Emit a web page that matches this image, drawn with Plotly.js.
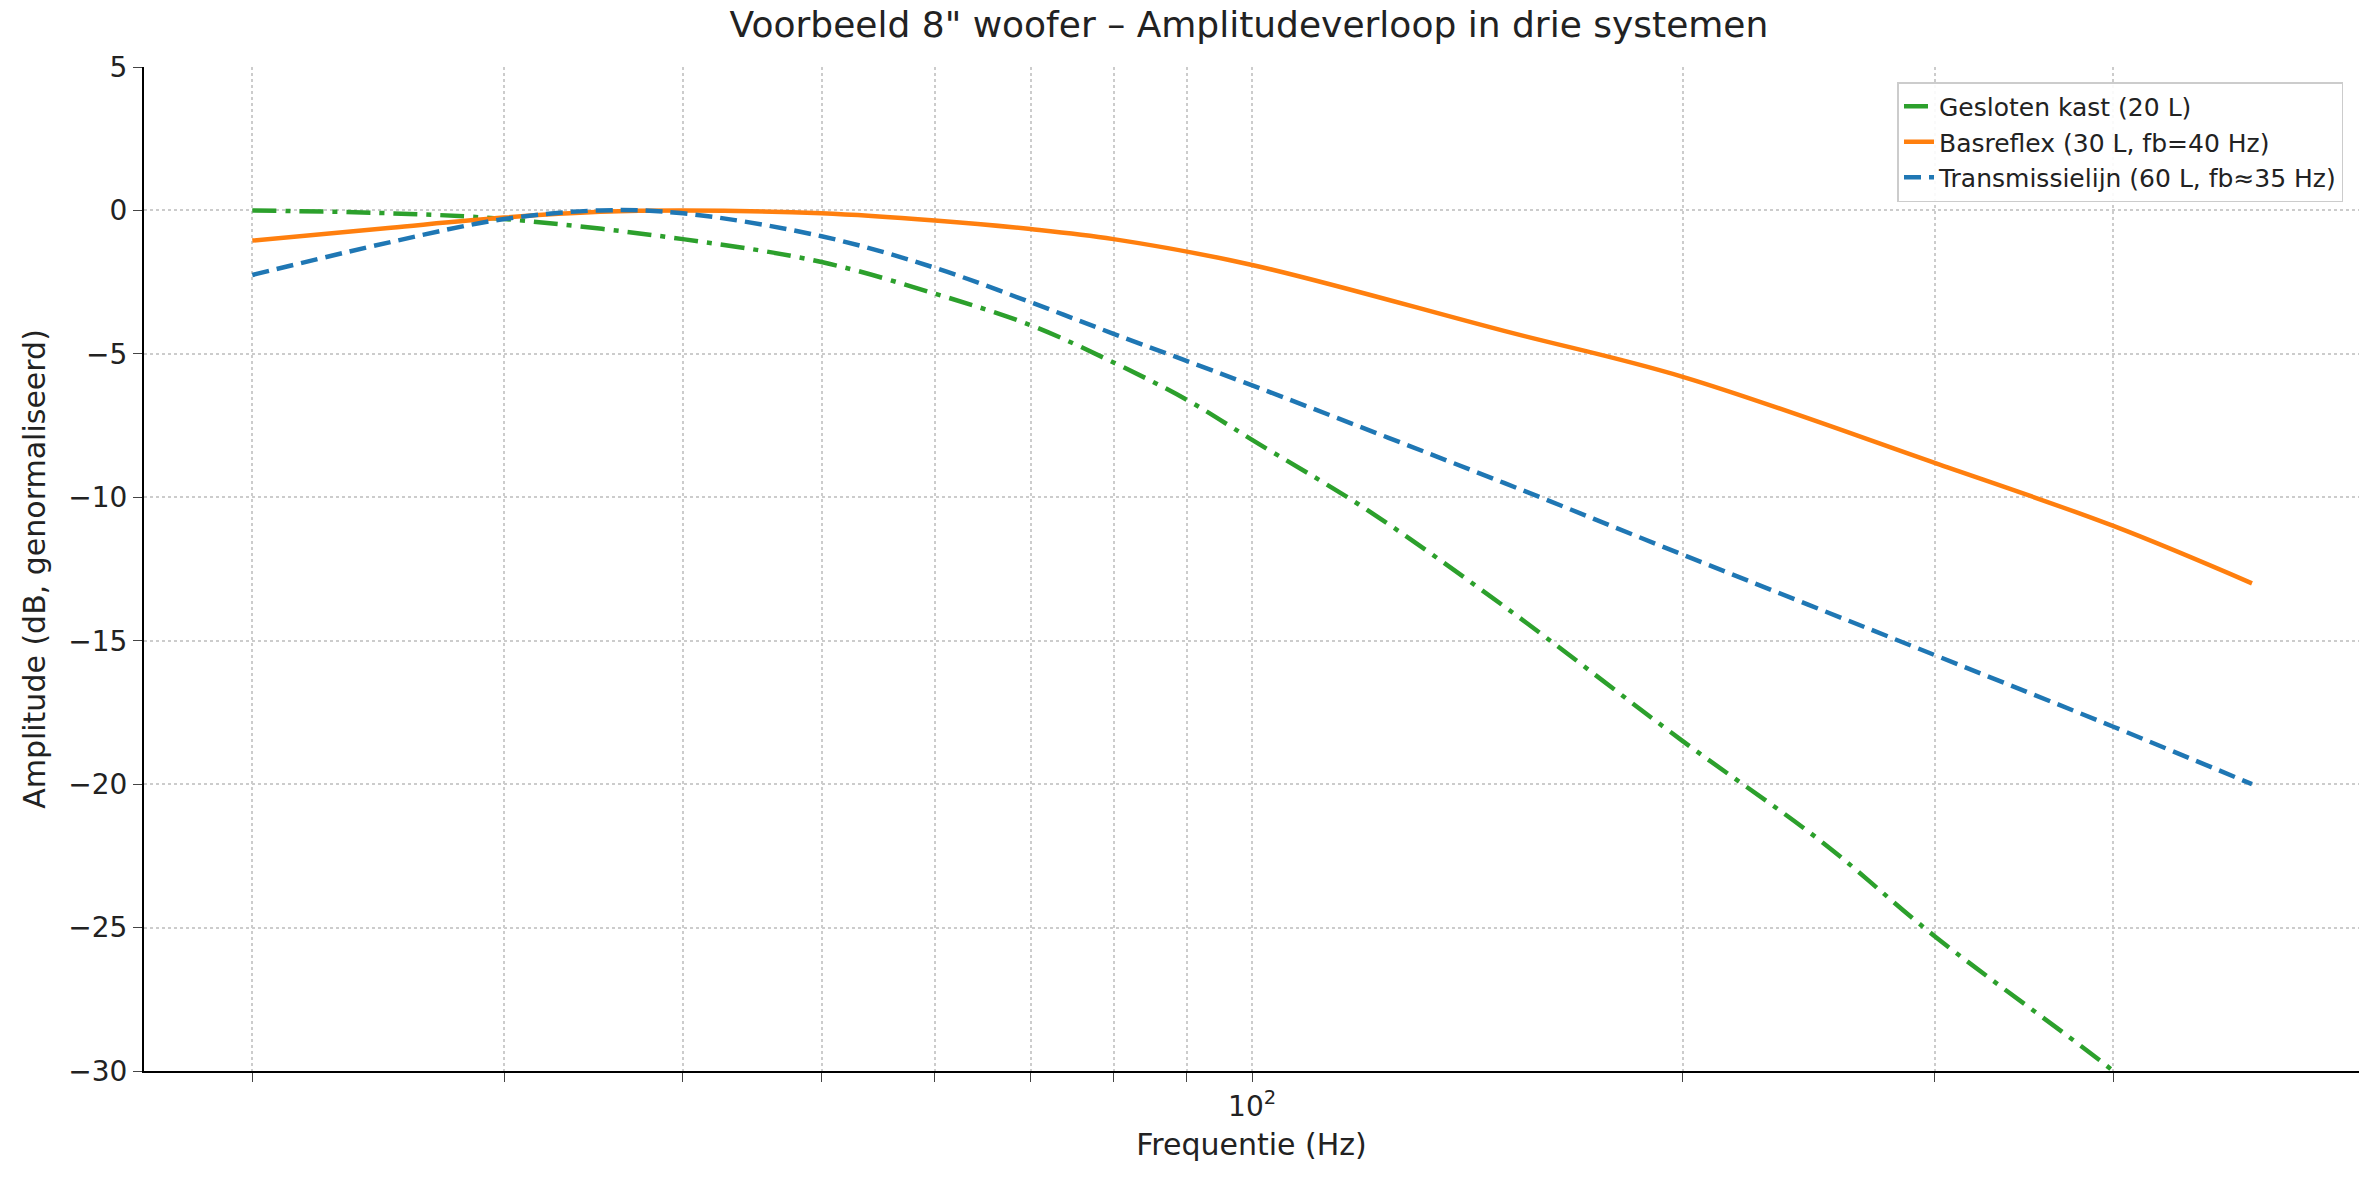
<!DOCTYPE html>
<html><head><meta charset="utf-8">
<script src="https://cdn.plot.ly/plotly-3.0.1.min.js"></script>
<style>body{margin:0;background:#fff}</style>
</head><body>
<div id="plot" style="width:2379px;height:1180px"></div>
<script>
// values
var freqClosed = [20, 25, 30, 40, 50, 60, 70, 80, 90, 100, 120, 150, 200, 250, 300, 400, 500]
var ampClosed = [0, -0.1, -0.3, -1.0, -1.8, -2.9, -4.0, -5.3, -6.6, -8.0, -10.4, -13.8, -18.5, -22.0, -25.3, -30.0, -34]
var freqReflex = [20, 25, 30, 35, 40, 50, 60, 70, 80, 100, 150, 200, 300, 400, 500]
var ampReflex = [-1.05, -0.6, -0.25, -0.05, 0, -0.1, -0.35, -0.65, -1.0, -1.9, -4.2, -5.8, -8.8, -11.0, -13.0]
var freqLine = [20, 25, 30, 35, 40, 50, 60, 70, 80, 100, 150, 200, 300, 400, 500]
var ampLine = [-2.25, -1.1, -0.3, 0, -0.1, -0.9, -2.0, -3.2, -4.3, -6.1, -9.5, -12.0, -15.5, -18.0, -20.0]
var names = ['Gesloten kast (20 L)', 'Basreflex (30 L, fb=40 Hz)', 'Transmissielijn (60 L, fb≈35 Hz)']

var data = [
  {x: freqClosed, y: ampClosed, name: names[0], mode: 'lines', line: {color: '#2ca02c', width: 4.5, dash: '24px,9px,5px,9px', shape: 'spline'}},
  {x: freqReflex, y: ampReflex, name: names[1], mode: 'lines', line: {color: '#ff7f0e', width: 4.5, shape: 'spline'}},
  {x: freqLine, y: ampLine, name: names[2], mode: 'lines', line: {color: '#1f77b4', width: 4.5, dash: '17px,8px', shape: 'spline'}}
]
var gridTicks = [20, 30, 40, 50, 60, 70, 80, 90, 100, 200, 300, 400]
var layout = {
  width: 2379, height: 1180,
  font: {family: 'DejaVu Sans', size: 28, color: '#222'},
  margin: {l: 144, r: 20, t: 67, b: 109},
  plot_bgcolor: '#fff', paper_bgcolor: '#fff',
  title: {text: 'Voorbeeld 8" woofer – Amplitudeverloop in drie systemen', font: {size: 36}, x: 0.525, xanchor: 'center', y: 0.99, yanchor: 'top'},
  xaxis: {type: 'log', range: [Math.log10(16.8), Math.log10(594)],
    tickvals: gridTicks, ticktext: gridTicks.map(function (v) { return v === 100 ? '10<sup>2</sup>' : '' }),
    showgrid: true, gridcolor: '#ccc', griddash: 'dot', gridwidth: 1.5,
    ticks: 'outside', ticklen: 9, showline: true, linecolor: '#000', linewidth: 2, zeroline: false,
    title: {text: 'Frequentie (Hz)', font: {size: 30}, standoff: 12}},
  yaxis: {range: [-30, 5], dtick: 5, tickformat: 'd',
    showgrid: true, gridcolor: '#ccc', griddash: 'dot', gridwidth: 1.5,
    ticks: 'outside', ticklen: 9, showline: true, linecolor: '#000', linewidth: 2, zeroline: false,
    title: {text: 'Amplitude (dB, genormaliseerd)', font: {size: 30}, standoff: 14}},
  legend: {x: 0.993, y: 0.985, xanchor: 'right', yanchor: 'top', bgcolor: 'rgba(255,255,255,0.9)',
    bordercolor: '#ccc', borderwidth: 1.5, font: {size: 25}},
  showlegend: true
}
Plotly.newPlot('plot', data, layout, {displayModeBar: false})
</script>
</body></html>
